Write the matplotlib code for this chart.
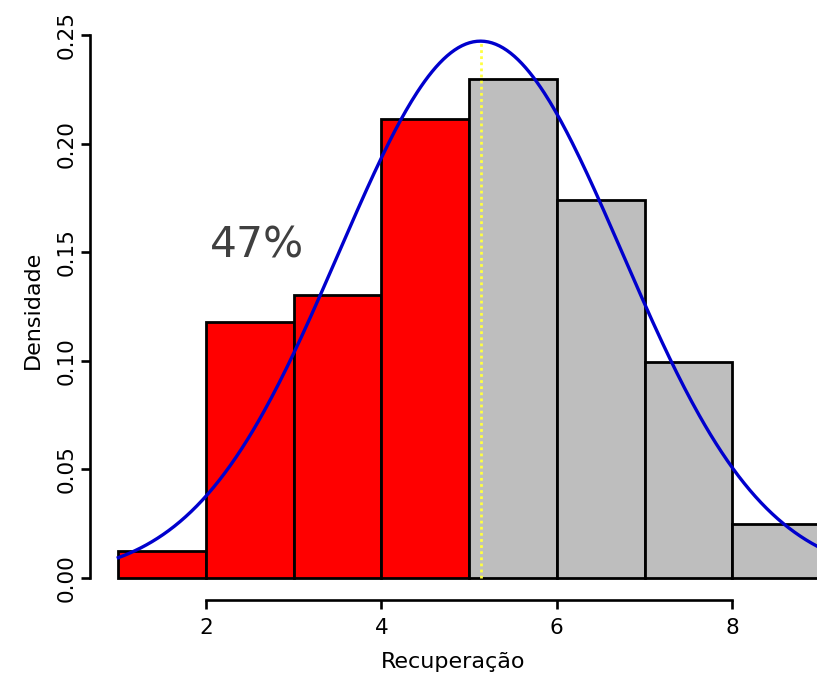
import numpy as np
import matplotlib.pyplot as plt

# histogram data (bins of width 1, density scale)
bin_edges = [1, 2, 3, 4, 5, 6, 7, 8, 9]
counts = [2, 19, 21, 34, 37, 28, 16, 4]
bar_colors = ['red', 'red', 'red', 'red', '#BEBEBE', '#BEBEBE', '#BEBEBE', '#BEBEBE']

# fitted normal curve
mu = 5.13
sigma = 1.614

x_ticks = [2, 4, 6, 8]
y_ticks = [0.00, 0.05, 0.10, 0.15, 0.20, 0.25]
y_tick_labels = ['0.00', '0.05', '0.10', '0.15', '0.20', '0.25']
pct_label = '47%'

total = sum(counts)
dens = [c / total for c in counts]

fig = plt.figure(figsize=(8.17, 6.74), dpi=100)
W, H = 817, 674
# axes in pixel coords: left=90, right=817, top=20, bottom=600
ax = fig.add_axes([90 / W, (H - 600) / H, (817 - 90) / W, (600 - 20) / H])

px_per_x = 87.7
px_per_y = 2172.0
ax.set_xlim(2 - (206 - 90) / px_per_x, 2 + (817 - 206) / px_per_x)
ax.set_ylim(-(600 - 578) / px_per_y, (578 - 20) / px_per_y)

lefts = bin_edges[:-1]
widths = np.diff(bin_edges)
ax.bar(lefts, dens, width=widths, align='edge', color=bar_colors,
       edgecolor='black', linewidth=2.0, zorder=2)

xs = np.linspace(1, 9.5, 400)
ys = np.exp(-(xs - mu) ** 2 / (2 * sigma ** 2)) / (sigma * np.sqrt(2 * np.pi))
ax.plot(xs, ys, color='#0000CD', linewidth=2.4, zorder=3)

peak = 1 / (sigma * np.sqrt(2 * np.pi))
ax.plot([mu, mu], [0, peak], color='#FFFF40', linewidth=2.0,
        linestyle=(0, (1, 1.2)), zorder=4)

ax.text(2.58, 0.1533, pct_label, fontsize=30.5, color='#404040',
        ha='center', va='center')

for side in ['top', 'right']:
    ax.spines[side].set_visible(False)
ax.spines['left'].set_bounds(0, 0.25)
ax.spines['bottom'].set_bounds(2, 8)
ax.spines['left'].set_linewidth(1.9)
ax.spines['bottom'].set_linewidth(1.9)

ax.set_xticks(x_ticks)
ax.set_yticks(y_ticks)
ax.set_yticklabels(y_tick_labels, rotation=90, va='center')
ax.tick_params(axis='both', direction='out', length=6.3, width=1.9,
               labelsize=15.5)
ax.tick_params(axis='x', pad=7)
ax.tick_params(axis='y', pad=3.5)

ax.set_xlabel('Recuperação', fontsize=16, labelpad=10)
ax.set_ylabel('Densidade', fontsize=16, labelpad=10)

fig.savefig('out.png', dpi=100)
